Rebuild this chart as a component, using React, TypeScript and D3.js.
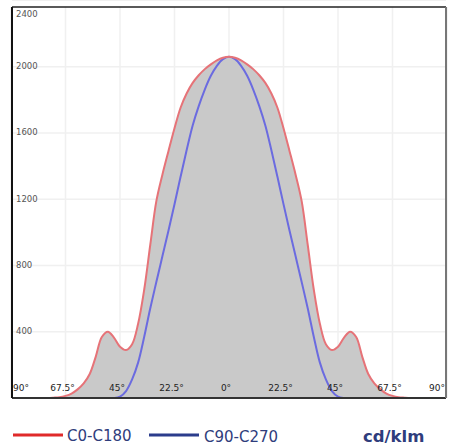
import React from "react";
import * as d3 from "d3";

const angles = [0, 2.5, 5, 7.5, 10, 12.5, 15, 17.5, 20, 22.5, 25, 27.5, 30, 32.5, 35, 37.5, 40, 42.5, 45, 47.5, 50, 52.5, 55, 57.5, 60, 62.5, 65, 67.5, 70, 72.5, 75, 80, 85, 90];
const redHalf = [2060, 2054, 2038, 2014, 1985, 1948, 1902, 1838, 1752, 1628, 1490, 1348, 1188, 925, 655, 450, 325, 290, 310, 365, 400, 368, 250, 145, 88, 52, 27, 13, 5, 2, 0, 0, 0, 0];
const blueHalf = [2060, 2045, 2005, 1945, 1862, 1762, 1645, 1495, 1335, 1170, 1010, 855, 700, 542, 370, 215, 112, 42, 8, 0, 0, 0, 0, 0, 0, 0, 0, 0, 0, 0, 0, 0, 0, 0];

const xTicks = [-90, -67.5, -45, -22.5, 0, 22.5, 45, 67.5, 90];
const xTickLabels = ["90°", "67.5°", "45°", "22.5°", "0°", "22.5°", "45°", "67.5°", "90°"];
const yTicks = [400, 800, 1200, 1600, 2000, 2400];
const seriesNames = ["C0-C180", "C90-C270"];
const unitLabel = "cd/klm";

type P = { a: number; v: number };
function full(half: number[]): P[] {
  const left: P[] = [];
  for (let i = angles.length - 1; i > 0; i--) left.push({ a: -angles[i], v: half[i] });
  const right: P[] = angles.map((a, i) => ({ a, v: half[i] }));
  return left.concat(right);
}

export default function App() {
  const W = 451, H = 448;
  const L = 12, R = 446, T = 7, B = 398;
  const x = d3.scaleLinear().domain([-90, 90]).range([11, 447]);
  const y = d3.scaleLinear().domain([0, 2360]).range([B, T]);

  const red = full(redHalf);
  const blue = full(blueHalf);
  const env = red.map((p, i) => ({ a: p.a, v: Math.max(p.v, blue[i].v) }));

  const curve = d3.curveCatmullRom.alpha(0.5);
  const line = d3.line<P>().x(d => x(d.a)).y(d => y(d.v)).curve(curve);
  const area = d3.area<P>().x(d => x(d.a)).y0(y(0)).y1(d => y(d.v)).curve(curve);

  const font = "'DejaVu Sans', Verdana, sans-serif";

  return (
    <svg width={W} height={H} style={{ position: "absolute", left: 0, top: 0, background: "#fff" }}>
      <defs>
        <clipPath id="plot">
          <rect x={L} y={T} width={R - L} height={B - T} />
        </clipPath>
      </defs>
      <rect x={L} y={T} width={R - L} height={B - T} fill="#fff" />
      {xTicks.map((t, i) => (
        <line key={"gx" + i} x1={x(t)} x2={x(t)} y1={T} y2={B} stroke="#f0f0f0" strokeWidth={1.5} />
      ))}
      {yTicks.map((t, i) => (
        <line key={"gy" + i} x1={L} x2={R} y1={y(t)} y2={y(t)} stroke="#f0f0f0" strokeWidth={1.5} />
      ))}
      <g clipPath="url(#plot)">
        <path d={area(env) || ""} fill="#c9c9c9" />
        <path d={line(blue) || ""} fill="none" stroke="#6b6be0" strokeWidth={2} />
        <path d={line(red) || ""} fill="none" stroke="#e67378" strokeWidth={2} />
      </g>
      {yTicks.map((t, i) => (
        <text key={"yl" + i} x={16} y={Math.max(y(t), T + 7)} dominantBaseline="middle" fontFamily={font} fontSize={8.5} fill="#555">
          {t}
        </text>
      ))}
      {xTicks.map((t, i) => {
        const first = i === 0, last = i === xTicks.length - 1;
        const anchor = first ? "start" : last ? "end" : "middle";
        const xx = first ? L + 1 : last ? R - 1 : x(t) - 3;
        return (
          <text key={"xl" + i} x={xx} y={391} textAnchor={anchor} fontFamily={font} fontSize={9} fill="#222">
            {xTickLabels[i]}
          </text>
        );
      })}
      <line x1={L} x2={R} y1={T} y2={T} stroke="#222" strokeWidth={1.5} />
      <line x1={L} x2={R} y1={B} y2={B} stroke="#333" strokeWidth={2} />
      <line x1={L} x2={L} y1={T} y2={B} stroke="#111" strokeWidth={2} />
      <line x1={R} x2={R} y1={T} y2={B} stroke="#777" strokeWidth={2} />
      <line x1={13} x2={63} y1={435} y2={435} stroke="#e02a2a" strokeWidth={3} />
      <text x={67} y={441} fontFamily={font} fontSize={15} fill="#2f3d7c">{seriesNames[0]}</text>
      <line x1={149} x2={199} y1={435} y2={435} stroke="#2b3c8c" strokeWidth={3} />
      <text x={204} y={441.5} fontFamily={font} fontSize={15} fill="#2f3d7c">{seriesNames[1]}</text>
      <text x={363} y={441.5} fontFamily={font} fontSize={16.5} fontWeight="bold" fill="#2f3d7c">{unitLabel}</text>
    </svg>
  );
}
